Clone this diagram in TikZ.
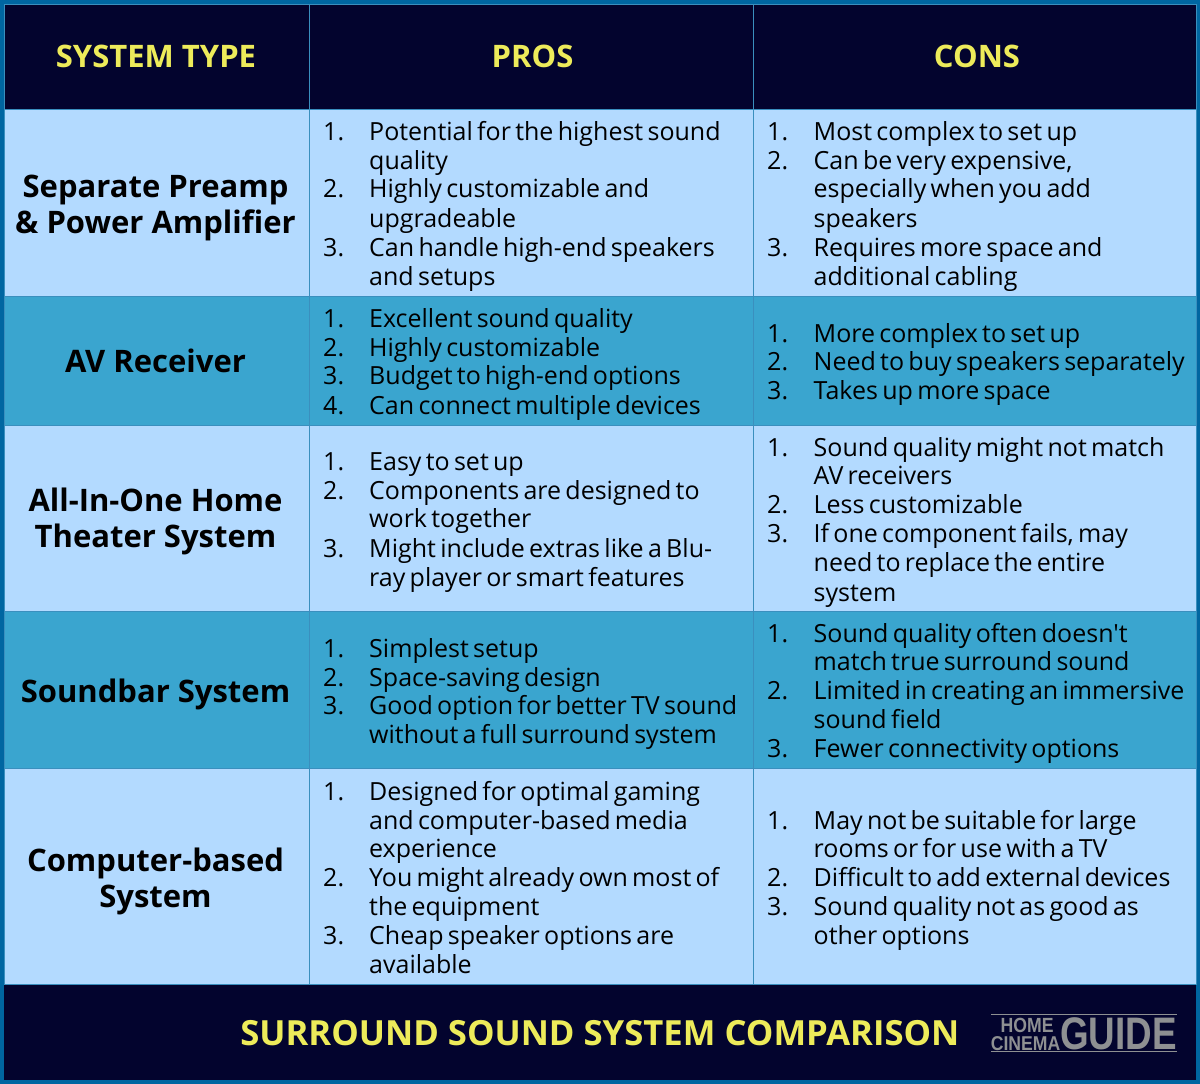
\documentclass[tikz,border=0pt]{standalone}
\usepackage{fontspec}
\setmainfont{Open Sans}[Ligatures=TeXOff]
\newfontfamily\logofont{Liberation Sans}
\definecolor{frameblue}{HTML}{0066A1}
\definecolor{gridblue}{HTML}{3A8FBE}
\definecolor{navy}{HTML}{03042E}
\definecolor{paleblue}{HTML}{B3DAFF}
\definecolor{midblue}{HTML}{3AA5CF}
\definecolor{headyellow}{HTML}{EDEB5A}
\definecolor{logogray}{HTML}{8E9092}
\tikzset{
  cell/.style={draw=gridblue, line width=1pt, inner sep=0pt, anchor=north west},
  headlabel/.style={inner sep=0pt, text=headyellow, font=\fontsize{31}{37}\selectfont\bfseries},
  typelabel/.style={inner sep=0pt, align=center, text=black, font=\fontsize{31}{36}\selectfont\bfseries},
  entry/.style={anchor=base west, inner sep=0pt, text=black, font={\fontsize{25}{29}\selectfont\spaceskip=4.3pt}},
  logotext/.style={inner sep=0pt, text=logogray},
}
\begin{document}
\begin{tikzpicture}[x=1pt, y=-1pt]
\useasboundingbox (0, 0) rectangle (1200, 1084);
\fill [frameblue] (0, 0) rectangle (1200, 1084);
% header row
\node (headtypecell) [cell, fill=navy, minimum width=305pt, minimum height=105pt] at (4, 4) {};
\node (headproscell) [cell, fill=navy, minimum width=444pt, minimum height=105pt] at (309, 4) {};
\node (headconscell) [cell, fill=navy, minimum width=443pt, minimum height=105pt] at (753, 4) {};
\node (headtype) [headlabel] at (156, 56) {SYSTEM TYPE};
\node (headpros) [headlabel] at (532.5, 56) {PROS};
\node (headcons) [headlabel] at (977, 56) {CONS};
% rows
\foreach \i/\ytop/\h/\shade/\ylabel/\name in {
    1/109/187/paleblue/207.5/{Separate Preamp\\\& Power Amplifier},
    2/296/129/midblue/360.5/{AV Receiver},
    3/425/186/paleblue/521/{All-In-One Home\\Theater System},
    4/611/157/midblue/694.5/{Soundbar System},
    5/768/216/paleblue/881/{Computer-based\\System}} {
  \node (typecell\i) [cell, fill=\shade, minimum width=305pt, minimum height=\h pt] at (4, \ytop) {};
  \node (proscell\i) [cell, fill=\shade, minimum width=444pt, minimum height=\h pt] at (309, \ytop) {};
  \node (conscell\i) [cell, fill=\shade, minimum width=443pt, minimum height=\h pt] at (753, \ytop) {};
  \node (type\i) [typelabel] at (155.5, \ylabel) {\name};
}
% pros
\foreach \k/\y/\num/\txt in {
    a/140/1./{Potential for the highest sound},
    b/169//{quality},
    c/197/2./{Highly customizable and},
    d/227//{upgradeable},
    e/256/3./{Can handle high-end speakers},
    f/285//{and setups},
    g/327/1./{Excellent sound quality},
    h/356/2./{Highly customizable},
    i/384/3./{Budget to high-end options},
    j/414/4./{Can connect multiple devices},
    k/470/1./{Easy to set up},
    l/499/2./{Components are designed to},
    m/527//{work together},
    n/557/3./{Might include extras like a Blu-},
    o/586//{ray player or smart features},
    p/657/1./{Simplest setup},
    q/686/2./{Space-saving design},
    r/714/3./{Good option for better TV sound},
    s/743//{without a full surround system},
    t/800/1./{Designed for optimal gaming},
    u/829//{and computer-based media},
    v/857//{experience},
    w/886/2./{You might already own most of},
    x/915//{the equipment},
    y/944/3./{Cheap speaker options are},
    z/973//{available}} {
  \node (pnum\k) [entry] at (323, \y) {\num};
  \node (ptxt\k) [entry] at (369, \y) {\txt};
}
% cons
\foreach \k/\y/\num/\txt in {
    a/140/1./{Most complex to set up},
    b/169/2./{Can be very expensive,},
    c/197//{especially when you add},
    d/227//{speakers},
    e/256/3./{Requires more space and},
    f/285//{additional cabling},
    g/342/1./{More complex to set up},
    h/370/2./{Need to buy speakers separately},
    i/399/3./{Takes up more space},
    j/456/1./{Sound quality might not match},
    k/484//{AV receivers},
    l/513/2./{Less customizable},
    m/542/3./{If one component fails, may},
    n/571//{need to replace the entire},
    o/601//{system},
    p/642/1./{Sound quality often doesn't},
    q/670//{match true surround sound},
    r/699/2./{Limited in creating an immersive},
    s/728//{sound field},
    t/757/3./{Fewer connectivity options},
    u/829/1./{May not be suitable for large},
    v/857//{rooms or for use with a TV},
    w/886/2./{Difficult to add external devices},
    x/915/3./{Sound quality not as good as},
    y/944//{other options}} {
  \node (cnum\k) [entry] at (767, \y) {\num};
  \node (ctxt\k) [entry] at (813.5, \y) {\txt};
}
% footer
\fill [navy] (4, 985) rectangle (1196, 1080);
\node (title) [anchor=base east, inner sep=0pt, text=headyellow, font=\fontsize{34.65}{40}\selectfont\bfseries] at (959.5, 1045) {SURROUND SOUND SYSTEM COMPARISON};
\node (logohome) [logotext, anchor=base west, xscale=0.86, font=\fontsize{20.5}{20}\logofont\selectfont\bfseries] at (1000.5, 1032.5) {HOME};
\node (logocinema) [logotext, anchor=base west, xscale=0.88, font=\fontsize{20}{20}\logofont\selectfont\bfseries] at (990.7, 1050) {CINEMA};
\node (logoguide) [logotext, anchor=base west, xscale=0.807, font=\fontsize{45.6}{46}\logofont\selectfont\bfseries] at (1060, 1049.5) {GUIDE};
\draw [logogray, line width=1pt] (991, 1014.3) -- (1176.7, 1014.3);
\draw [logogray, line width=1pt] (991, 1051.7) -- (1176.7, 1051.7);
\end{tikzpicture}
\end{document}
